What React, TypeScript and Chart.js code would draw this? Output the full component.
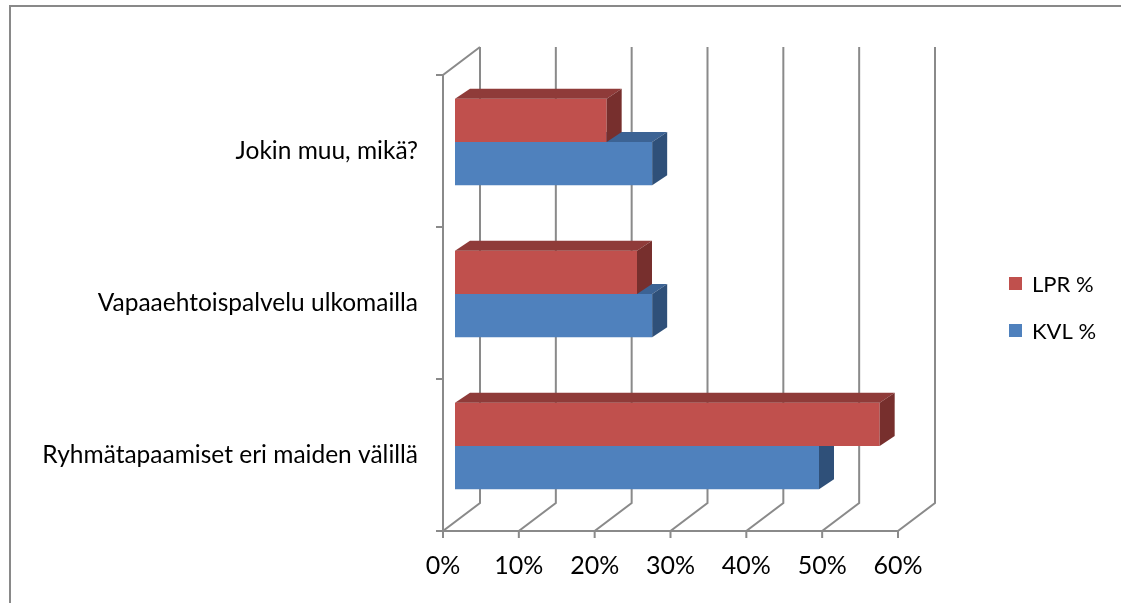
import { useEffect, useRef } from 'react';
import { Chart, registerables } from 'chart.js';

Chart.register(...registerables);

const categories = ['Jokin muu, mikä?', 'Vapaaehtoispalvelu ulkomailla', 'Ryhmätapaamiset eri maiden välillä'];
const lprValues = [20, 24, 56];
const kvlValues = [26, 26, 48];
const xTicks = [0, 10, 20, 30, 40, 50, 60];
const seriesNames = ['LPR %', 'KVL %'];

const FONT = 'Lato, "Open Sans", sans-serif';
const WALL_DX = 37;
const WALL_DY = 28;
const BAR_SHIFT_X = 12;
const BAR_SHIFT_Y = -9;
const DEPTH_X = 15;
const DEPTH_Y = 10;
const GRID = '#8a8a8a';

const faceColors = [
  { front: '#C0504D', top: '#8F3B39', side: '#772F2D' },
  { front: '#4F81BD', top: '#3C6394', side: '#2F5079' },
];

const plugin3d = {
  id: 'excel3d',
  beforeDraw(chart: any) {
    const ctx = chart.ctx;
    ctx.save();
    ctx.fillStyle = '#ffffff';
    ctx.fillRect(0, 0, chart.width, chart.height);
    ctx.strokeStyle = '#898989';
    ctx.lineWidth = 2;
    ctx.beginPath();
    ctx.moveTo(10, chart.height + 4);
    ctx.lineTo(10, 6);
    ctx.lineTo(chart.width + 4, 6);
    ctx.stroke();
    ctx.restore();
  },
  beforeDatasetsDraw(chart: any) {
    const { ctx, chartArea: a, scales } = chart;
    const x = scales.x;
    ctx.save();
    ctx.strokeStyle = GRID;
    ctx.lineWidth = 2;
    ctx.beginPath();
    xTicks.forEach((v) => {
      const px = x.getPixelForValue(v);
      ctx.moveTo(px, a.bottom + 7);
      ctx.lineTo(px, a.bottom);
      ctx.lineTo(px + WALL_DX, a.bottom - WALL_DY);
      ctx.lineTo(px + WALL_DX, a.top - WALL_DY);
    });
    ctx.moveTo(a.left - 7, a.bottom);
    ctx.lineTo(a.right, a.bottom);
    ctx.moveTo(a.left, a.bottom);
    ctx.lineTo(a.left, a.top);
    ctx.lineTo(a.left + WALL_DX, a.top - WALL_DY);
    const band = (a.bottom - a.top) / categories.length;
    for (let k = 0; k < categories.length; k++) {
      const yy = a.top + k * band;
      ctx.moveTo(a.left - 7, yy);
      ctx.lineTo(a.left, yy);
    }
    ctx.stroke();
    ctx.restore();
    ctx.save();
    ctx.translate(BAR_SHIFT_X, BAR_SHIFT_Y);
  },
  afterDatasetDraw(chart: any, args: any) {
    const ctx = chart.ctx;
    const meta = args.meta;
    const col = faceColors[args.index];
    meta.data.forEach((el: any) => {
      const p = el.getProps(['x', 'y', 'base', 'height'], true);
      const left = Math.min(p.base, p.x);
      const right = Math.max(p.base, p.x);
      const top = p.y - p.height / 2;
      const bottom = p.y + p.height / 2;
      ctx.save();
      ctx.fillStyle = col.top;
      ctx.beginPath();
      ctx.moveTo(left, top);
      ctx.lineTo(right, top);
      ctx.lineTo(right + DEPTH_X, top - DEPTH_Y);
      ctx.lineTo(left + DEPTH_X, top - DEPTH_Y);
      ctx.closePath();
      ctx.fill();
      ctx.fillStyle = col.side;
      ctx.beginPath();
      ctx.moveTo(right, top);
      ctx.lineTo(right + DEPTH_X, top - DEPTH_Y);
      ctx.lineTo(right + DEPTH_X, bottom - DEPTH_Y);
      ctx.lineTo(right, bottom);
      ctx.closePath();
      ctx.fill();
      ctx.restore();
    });
  },
  afterDatasetsDraw(chart: any) {
    chart.ctx.restore();
  },
  afterDraw(chart: any) {
    const ctx = chart.ctx;
    ctx.save();
    ctx.font = `22px ${FONT}`;
    ctx.textBaseline = 'middle';
    ctx.textAlign = 'left';
    chart.data.datasets.forEach((ds: any, i: number) => {
      const cy = 283.5 + i * 47;
      ctx.fillStyle = faceColors[i].front;
      ctx.fillRect(1009, cy - 6.5, 13, 13);
      ctx.fillStyle = '#000000';
      ctx.fillText(ds.label, 1032, cy + 1);
    });
    ctx.restore();
  },
};

export default function App() {
  const ref = useRef<HTMLCanvasElement | null>(null);
  useEffect(() => {
    if (!ref.current) return;
    const chart = new Chart(ref.current, {
      type: 'bar',
      data: {
        labels: categories,
        datasets: [
          { label: seriesNames[0], data: lprValues, backgroundColor: faceColors[0].front, borderWidth: 0, categoryPercentage: 0.568, barPercentage: 1.0 },
          { label: seriesNames[1], data: kvlValues, backgroundColor: faceColors[1].front, borderWidth: 0, categoryPercentage: 0.568, barPercentage: 1.0 },
        ],
      },
      options: {
        indexAxis: 'y',
        animation: false,
        responsive: false,
        events: [],
        layout: { padding: { left: 0, top: 75, right: 223, bottom: 0 } },
        plugins: { legend: { display: false }, tooltip: { enabled: false } },
        scales: {
          x: {
            type: 'linear',
            min: 0,
            max: 60,
            grid: { display: false },
            border: { display: false },
            afterBuildTicks: (s: any) => { s.ticks = xTicks.map((v) => ({ value: v })); },
            afterFit: (s: any) => { s.height = 72; },
            ticks: {
              autoSkip: false,
              maxRotation: 0,
              padding: 12,
              color: '#000000',
              font: { family: FONT, size: 25 },
              callback: (v: any) => `${v}%`,
            },
          },
          y: {
            type: 'category',
            grid: { display: false },
            border: { display: false },
            afterFit: (s: any) => { s.width = 443; },
            ticks: {
              padding: 17,
              color: '#000000',
              font: { family: FONT, size: 24.5 },
            },
          },
        },
      },
      plugins: [plugin3d],
    });
    return () => chart.destroy();
  }, []);
  return (
    <div style={{ position: 'fixed', left: 0, top: 0, width: 1121, height: 603 }}>
      <canvas ref={ref} width={1121} height={603} style={{ display: 'block' }} />
    </div>
  );
}
